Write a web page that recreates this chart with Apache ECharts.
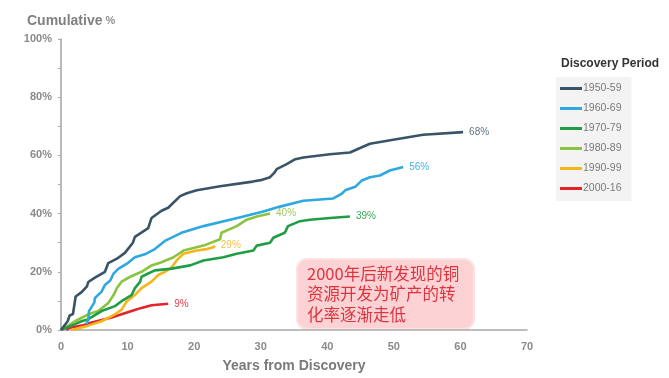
<!DOCTYPE html>
<html>
<head>
<meta charset="utf-8">
<style>
  html, body { margin: 0; padding: 0; background: #fff; }
  #chart { width: 669px; height: 378px; }
</style>
<script src="https://cdn.jsdelivr.net/npm/echarts@6/dist/echarts.min.js"></script>
</head>
<body>
<div id="chart"></div>
<script>
// Cumulative share of copper discoveries developed into mines, by discovery decade.
// Each point: [years from discovery, cumulative %]
const periods = ['1950-59', '1960-69', '1970-79', '1980-89', '1990-99', '2000-16'];
const colors = ['#395466', '#2ea9e0', '#1f9e46', '#8ac43f', '#f7b51c', '#e5232a'];
const labelColors = ['#5f7482', '#48b3e3', '#3aa75a', '#9ccb5d', '#f5c14a', '#e6424a'];
const endLabels = ['68%', '56%', '39%', '40%', '29%', '9%'];

const s1950 = [[0, 0], [0.1, 0.5], [1.0, 3], [1.3, 5], [1.8, 5.5], [2.2, 11.5], [3.1, 13], [3.9, 15],
  [4.1, 16.5], [5.1, 18], [6.6, 20], [7.1, 23], [8.4, 24.5], [9.6, 26.5], [10.8, 30], [11.1, 32],
  [13.1, 35], [13.6, 38.5], [15.1, 41], [16.1, 42], [17.9, 46], [18.9, 47], [20.4, 48], [23.9, 49.4],
  [28.8, 51], [30.0, 51.5], [31.4, 52.5], [32.1, 54.2], [32.4, 55.3], [33.9, 57], [35.2, 58.7],
  [36.4, 59.3], [40.4, 60.4], [43.4, 61], [46.4, 64], [49.9, 65.4], [54.4, 67.1], [60.4, 68]];
const s1960 = [[3.8, 2], [4.1, 3.5], [4.2, 6.5], [5.0, 9.4], [5.1, 11], [6.1, 13.2], [6.6, 15.5],
  [7.4, 17], [7.9, 19.4], [8.6, 21], [9.9, 22.8], [11.1, 25], [12.6, 26], [14.1, 27.8], [15.6, 30.6],
  [18.1, 33.4], [21.4, 35.7], [25.4, 37.9], [27.4, 39], [30.4, 40.7], [32.9, 42.4], [36.4, 44.4],
  [40.9, 45.2], [42.2, 46.9], [42.7, 48], [44.2, 49.2], [45.2, 51.4], [46.4, 52.5], [47.9, 53.1],
  [49.4, 54.8], [51.4, 56]];
const s1970 = [[0, 0], [1.0, 1], [2.1, 2], [3.1, 3], [4.1, 3.7], [6.1, 6.5], [8.1, 8.2], [9.1, 9.9],
  [10.6, 12], [11.1, 14.4], [11.9, 16.6], [12.1, 18.3], [13.1, 19.4], [14.1, 20.5], [16.4, 21],
  [19.4, 22.2], [21.4, 23.9], [24.4, 25], [26.4, 26.2], [28.9, 27.3], [29.4, 29], [31.4, 30],
  [31.9, 31.7], [33.6, 33.4], [34.1, 35.7], [35.9, 37.4], [37.4, 37.9], [40.4, 38.5], [43.4, 39]];
const s1980 = [[0, 0], [2.1, 3], [4.1, 5.4], [5.6, 6.5], [7.1, 9.3], [7.9, 12], [8.4, 14.4],
  [9.1, 16.6], [10.4, 18.3], [12.1, 20], [13.6, 22.2], [15.1, 23.3], [16.9, 25], [18.4, 27.3],
  [21.4, 29], [23.9, 31.2], [24.1, 33.4], [26.4, 35.7], [27.9, 37.9], [29.4, 39], [31.4, 40]];
const s1990 = [[1.5, 0], [2.1, 0.3], [4.1, 1.5], [6.1, 3], [8.1, 5.4], [9.1, 7], [9.9, 9.9],
  [11.1, 12], [12.1, 14.4], [13.6, 16.6], [14.6, 18.9], [15.6, 20], [16.6, 21.5], [17.4, 24],
  [18.4, 26.2], [20.4, 27.3], [21.9, 27.8], [22.9, 28.4], [23.1, 29]];
const s2000 = [[0.8, 0], [1.2, 0.7], [3.1, 1.5], [4.6, 2.6], [6.1, 3.4], [7.6, 4.3], [9.1, 5.4],
  [10.6, 6.5], [12.1, 7.6], [13.6, 8.5], [16.1, 9]];
const seriesData = [s1950, s1960, s1970, s1980, s1990, s2000];

const xTicks = { min: 0, max: 70, step: 10 };
const yTicks = { min: 0, max: 100, step: 10, labelEvery: 20 };

const noteLines = ['2000年后新发现的铜', '资源开发为矿产的转', '化率逐渐走低'];

const chart = echarts.init(document.getElementById('chart'), null, { renderer: 'canvas' });

const series = periods.map((name, i) => ({
  name,
  type: 'line',
  data: seriesData[i],
  showSymbol: false,
  symbol: 'none',
  smooth: false,
  z: 10 - i,
  lineStyle: { color: colors[i], width: 2.6 },
  itemStyle: { color: colors[i] },
  endLabel: {
    show: true,
    formatter: endLabels[i],
    color: labelColors[i],
    fontSize: 10,
    fontFamily: 'Liberation Sans Narrow, Liberation Sans, Arial, sans-serif',
    distance: 6
  },
  emphasis: { disabled: true }
}));

chart.setOption({
  animation: false,
  backgroundColor: '#ffffff',
  title: [{
    left: 22,
    top: 9,
    text: '{a|Cumulative}{b| %}',
    textStyle: {
      rich: {
        a: { fontSize: 14, fontWeight: 'bold', color: '#808080', fontFamily: 'Liberation Sans, Arial, sans-serif' },
        b: { fontSize: 11, color: '#909090', fontFamily: 'Liberation Sans, Arial, sans-serif' }
      }
    }
  }, {
    left: 556,
    top: 53,
    text: 'Discovery Period',
    textStyle: { fontSize: 12, fontWeight: 'bold', color: '#333', fontFamily: 'Liberation Sans Narrow, Liberation Sans, Arial, sans-serif' }
  }],
  legend: {
    orient: 'vertical',
    left: 556,
    top: 77,
    padding: [6, 10, 7, 4],
    backgroundColor: '#f3f3f3',
    icon: 'rect',
    itemWidth: 22,
    itemHeight: 3,
    itemGap: 9,
    textStyle: { color: '#7a7a7a', fontSize: 10.5, fontFamily: 'Liberation Sans Narrow, Liberation Sans, Arial, sans-serif', padding: [0, 0, 0, -4] },
    data: periods,
    selectedMode: false
  },
  grid: { left: 61, right: 142, top: 39, bottom: 42, containLabel: false },
  xAxis: {
    type: 'value',
    min: xTicks.min,
    max: xTicks.max,
    interval: xTicks.step,
    name: 'Years from Discovery',
    nameLocation: 'middle',
    nameGap: 29,
    nameTextStyle: { fontSize: 14, fontWeight: 'bold', color: '#7a7a7a', fontFamily: 'Liberation Sans, Arial, sans-serif' },
    axisLine: { show: true, lineStyle: { color: '#a9a9a9', width: 1.6 } },
    axisTick: { show: false },
    splitLine: { show: false },
    axisLabel: { margin: 11, fontSize: 11, fontWeight: 'bold', color: '#8a8a8a', fontFamily: 'Liberation Sans, Arial, sans-serif' }
  },
  yAxis: {
    type: 'value',
    min: yTicks.min,
    max: yTicks.max,
    interval: yTicks.step,
    axisLine: { show: true, lineStyle: { color: '#a9a9a9', width: 1.6 } },
    axisTick: { show: true, length: 3, inside: false, lineStyle: { color: '#a9a9a9', width: 1 } },
    splitLine: { show: false },
    axisLabel: {
      margin: 9,
      fontSize: 11,
      fontWeight: 'bold',
      color: '#8a8a8a',
      fontFamily: 'Liberation Sans, Arial, sans-serif',
      formatter: v => (v % yTicks.labelEvery === 0 ? v + '%' : '')
    }
  },
  graphic: [{
    type: 'group',
    left: 296,
    top: 258,
    z: 100,
    children: [{
      type: 'rect',
      shape: { x: 0, y: 0, width: 177, height: 70, r: 10 },
      style: { fill: '#fdd2d4', stroke: '#fbe3e4', lineWidth: 2 }
    }, {
      type: 'text',
      left: 10,
      top: 4,
      style: {
        text: noteLines.join('\n'),
        fill: '#dd3540',
        fontSize: 16.5,
        lineHeight: 20.5,
        fontFamily: 'Noto Sans CJK SC, sans-serif'
      }
    }]
  }],
  series
});
</script>
</body>
</html>
